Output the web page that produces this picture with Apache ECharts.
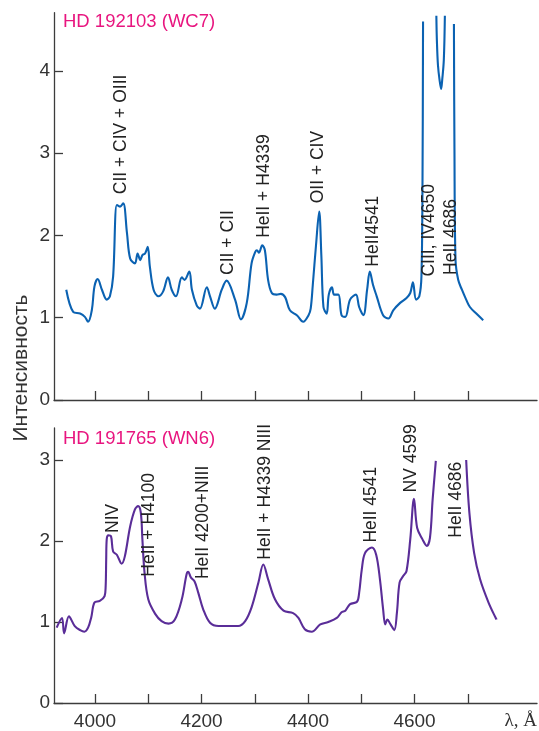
<!DOCTYPE html>
<html>
<head>
<meta charset="utf-8">
<script src="https://cdn.jsdelivr.net/npm/echarts@6/dist/echarts.min.js"></script>
<style>
  html, body { margin: 0; padding: 0; background: #fff; }
  #chart { width: 539px; height: 731px; }
</style>
</head>
<body>
<div id="chart"></div>
<script>
// HD 192103 (WC7) spectrum, null = gap where the line runs off the top
var wc7Wavelength = [3946, 3959, 3972, 3981, 3987, 3994, 3999, 4005, 4013, 4022, 4028, 4034, 4041, 4047, 4053, 4060, 4066, 4075, 4080, 4085, 4089, 4094, 4099, 4103, 4110, 4119, 4128, 4137, 4144, 4152, 4163, 4168, 4177, 4182, 4191, 4197, 4210, 4216, 4225, 4238, 4247, 4263, 4274, 4285, 4294, 4301, 4304, 4308, 4314, 4319, 4325, 4332, 4341, 4349, 4357, 4366, 4379, 4391, 4401, 4405, 4409, 4415, 4421, 4425, 4429, 4435, 4439, 4445, 4449, 4457, 4463, 4470, 4479, 4490, 4496, 4504, 4511, 4516, 4522, 4529, 4541, 4551, 4560, 4573, 4585, 4592, 4597, 4603, 4609, 4613, 4615, 4616, 4630, 4641, 4642, 4644, 4647, 4650, 4652, 4655, 4657, 4665, 4674, 4675, 4677, 4682, 4689, 4697, 4704, 4716, 4729];
var wc7Intensity = [1.34, 1.07, 1.05, 1.01, 0.95, 1.09, 1.38, 1.47, 1.34, 1.22, 1.26, 1.50, 2.37, 2.35, 2.39, 2.03, 1.72, 1.66, 1.78, 1.70, 1.76, 1.78, 1.86, 1.62, 1.34, 1.26, 1.32, 1.49, 1.34, 1.26, 1.49, 1.46, 1.56, 1.34, 1.15, 1.11, 1.37, 1.26, 1.11, 1.34, 1.45, 1.22, 0.98, 1.18, 1.66, 1.80, 1.82, 1.79, 1.88, 1.82, 1.46, 1.30, 1.28, 1.29, 1.25, 1.09, 1.03, 0.95, 1.03, 1.11, 1.40, 1.88, 2.29, 1.76, 1.13, 1.05, 1.28, 1.37, 1.28, 1.28, 1.03, 1.01, 1.22, 1.28, 1.13, 1.03, 1.34, 1.56, 1.40, 1.26, 1.03, 0.99, 1.09, 1.18, 1.24, 1.30, 1.43, 1.22, 1.26, 1.50, 2.67, 4.60, null, 4.67, 4.37, 4.07, 3.89, 3.78, 3.89, 4.13, 4.67, null, 4.57, 3.04, 1.70, 1.46, 1.34, 1.22, 1.13, 1.05, 0.97];

// HD 191765 (WN6) spectrum
var wn6Wavelength = [3928, 3938, 3942, 3951, 3962, 3972, 3980, 3987, 3993, 3999, 4009, 4018, 4020, 4021, 4022, 4025, 4030, 4034, 4041, 4050, 4056, 4066, 4075, 4081, 4086, 4089, 4093, 4100, 4113, 4125, 4138, 4150, 4163, 4172, 4175, 4180, 4187, 4194, 4203, 4216, 4232, 4269, 4282, 4294, 4307, 4316, 4325, 4338, 4354, 4372, 4382, 4394, 4407, 4423, 4438, 4454, 4463, 4470, 4479, 4492, 4496, 4501, 4507, 4520, 4528, 4535, 4541, 4545, 4549, 4555, 4562, 4567, 4572, 4579, 4585, 4592, 4599, 4605, 4615, 4623, 4629, 4634, 4640, 4670, 4697, 4703, 4712, 4723, 4739, 4754];
var wn6Intensity = [0.93, 1.05, 0.86, 1.07, 0.95, 0.90, 0.88, 0.93, 1.06, 1.24, 1.26, 1.32, 1.44, 1.77, 2.02, 2.07, 2.06, 1.87, 1.83, 1.72, 1.81, 2.18, 2.39, 2.43, 2.35, 2.02, 1.61, 1.28, 1.10, 1.01, 0.98, 1.03, 1.28, 1.59, 1.62, 1.55, 1.50, 1.36, 1.16, 0.99, 0.95, 0.95, 1.01, 1.18, 1.49, 1.71, 1.53, 1.28, 1.14, 1.11, 1.05, 0.91, 0.88, 0.97, 1.00, 1.05, 1.12, 1.14, 1.22, 1.25, 1.36, 1.65, 1.85, 1.92, 1.83, 1.53, 1.16, 0.97, 1.03, 0.97, 0.90, 1.12, 1.49, 1.57, 1.63, 2.02, 2.52, 2.16, 2.02, 1.94, 2.04, 2.51, 2.99, null, 3.00, 2.35, 1.85, 1.53, 1.24, 1.03];

// line identifications: text, wavelength and intensity at the foot of the label
var wc7Lines = ["CII + CIV + OIII", "CII + CII", "HeII + H4339", "OII + CIV", "HeII4541", "CIII, IV4650", "HeII 4686"];
var wc7LineX = [4050, 4251, 4318, 4420, 4523, 4628, 4668];
var wc7LineY = [2.50, 1.52, 1.97, 2.39, 1.62, 1.50, 1.52];

var wn6Lines = ["NIV", "HeII + H4100", "HeII 4200+NIII", "HeII + H4339 NIII", "HeII 4541", "NV 4599", "HeII 4686"];
var wn6LineX = [4035, 4101, 4204, 4320, 4519, 4593, 4678];
var wn6LineY = [2.10, 1.56, 1.53, 1.77, 1.98, 2.60, 2.04];

var xTicks = [4000, 4100, 4200, 4300, 4400, 4500, 4600, 4700];
var xLabels = [4000, 4200, 4400, 4600];
var wc7YTicks = [0, 1, 2, 3, 4];
var wn6YTicks = [0, 1, 2, 3];

var font = "Liberation Sans, Arial, sans-serif";
var axisColor = "#3c3c3c";

function pairs(xs, ys) {
  return xs.map(function (x, i) { return [x, ys[i]]; });
}

function marks(texts, xs, ys) {
  return texts.map(function (t, i) {
    return { name: t, coord: [xs[i], ys[i]] };
  });
}

function xAxis(grid, showLabels) {
  return {
    type: "value",
    gridIndex: grid,
    min: 3923,
    max: 4830,
    axisLine: { show: true, onZero: false, lineStyle: { color: axisColor, width: 1.3 } },
    axisTick: { show: true, inside: true, length: 9, customValues: xTicks, lineStyle: { color: axisColor, width: 1.3 } },
    axisLabel: {
      show: showLabels,
      customValues: xLabels,
      formatter: function (v) { return String(v); },
      color: "#333",
      fontSize: 19,
      fontFamily: font,
      margin: 9
    },
    splitLine: { show: false }
  };
}

function yAxis(grid, max, ticks) {
  return {
    type: "value",
    gridIndex: grid,
    min: 0,
    max: max,
    axisLine: { show: true, lineStyle: { color: axisColor, width: 1.3 } },
    axisTick: { show: true, inside: true, length: 9, customValues: ticks, lineStyle: { color: axisColor, width: 1.3 } },
    axisLabel: { customValues: ticks, color: "#333", fontSize: 19, fontFamily: font, margin: 4 },
    splitLine: { show: false }
  };
}

function markLabels(texts, xs, ys) {
  return {
    symbol: "circle",
    symbolSize: 1,
    itemStyle: { color: "rgba(0,0,0,0)" },
    label: {
      show: true,
      position: "inside",
      rotate: 90,
      align: "left",
      verticalAlign: "middle",
      formatter: "{b}",
      color: "#222",
      fontSize: 17.5,
      fontFamily: font
    },
    data: marks(texts, xs, ys)
  };
}

var chart = echarts.init(document.getElementById("chart"), null, { renderer: "canvas" });

chart.setOption({
  animation: false,
  backgroundColor: "#fff",
  grid: [
    { left: 54, right: 2, top: 12.7, height: 387.3 },
    { left: 54, right: 2, top: 428, height: 276 }
  ],
  xAxis: [xAxis(0, false), xAxis(1, true)],
  yAxis: [yAxis(0, 4.706, wc7YTicks), yAxis(1, 3.395, wn6YTicks)],
  series: [
    {
      type: "line",
      xAxisIndex: 0,
      yAxisIndex: 0,
      data: pairs(wc7Wavelength, wc7Intensity),
      showSymbol: false,
      smooth: 0.35,
      lineStyle: { color: "#0b62b2", width: 2.1 },
      markPoint: markLabels(wc7Lines, wc7LineX, wc7LineY)
    },
    {
      type: "line",
      xAxisIndex: 1,
      yAxisIndex: 1,
      data: pairs(wn6Wavelength, wn6Intensity),
      showSymbol: false,
      smooth: 0.35,
      lineStyle: { color: "#5a2d98", width: 2.1 },
      markPoint: markLabels(wn6Lines, wn6LineX, wn6LineY)
    }
  ],
  graphic: [
    {
      type: "text", left: 63, top: 12,
      style: { text: "HD 192103 (WC7)", fill: "#e8157f", font: "18.5px " + font }
    },
    {
      type: "text", left: 63, top: 429,
      style: { text: "HD 191765 (WN6)", fill: "#e8157f", font: "18.5px " + font }
    },
    {
      type: "text", x: 21, y: 368, rotation: Math.PI / 2,
      style: { text: "Интенсивность", fill: "#333", font: "21px " + font, align: "center", verticalAlign: "middle" }
    },
    {
      type: "text", x: 537, y: 721,
      style: { text: "λ, Å", fill: "#333", font: "19px Liberation Serif, DejaVu Serif, serif", align: "right", verticalAlign: "middle" }
    }
  ]
});
</script>
</body>
</html>
